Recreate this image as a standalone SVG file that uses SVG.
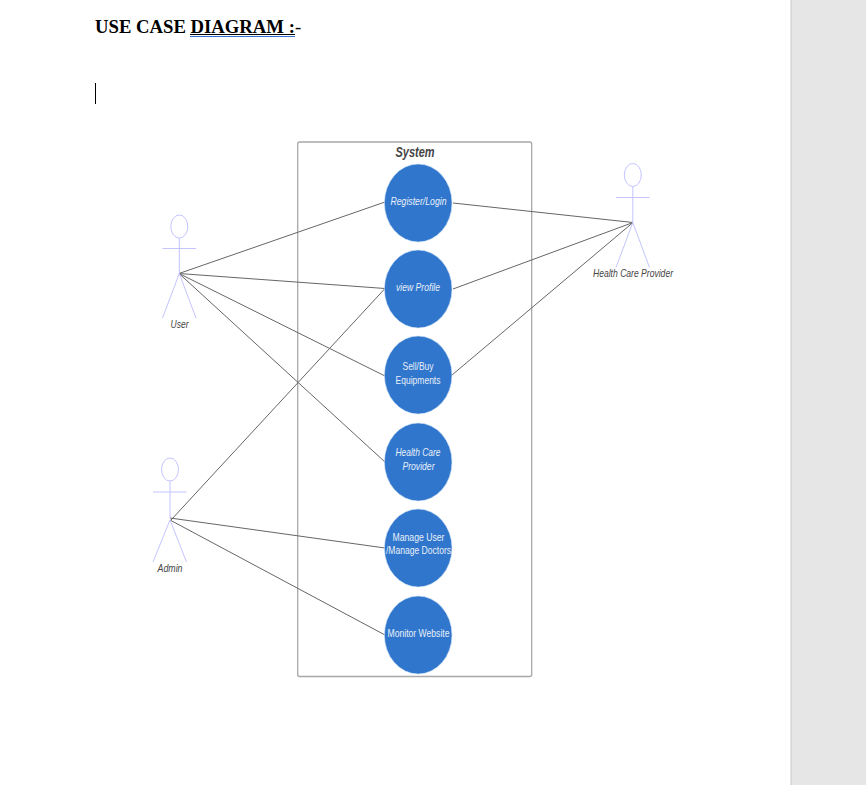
<svg xmlns="http://www.w3.org/2000/svg" width="866" height="785" viewBox="0 0 866 785">
<style>
.uc{fill:#3076cc;stroke:#cfe0f5;stroke-width:.6}
.a{fill:none;stroke:#c4c4ff;stroke-width:1}
.c{stroke:#666;stroke-width:1;fill:none}
text{font-family:"Liberation Sans",Arial,sans-serif;text-anchor:middle}
.w{fill:#e8f0fa;font-size:11px}
.i{font-style:italic}
.l{fill:#444;font-size:11px;font-style:italic}
.t{font-family:"Liberation Serif","Times New Roman",serif;font-size:18.7px;font-weight:bold;fill:#000;text-anchor:start}
</style>
<rect width="866" height="785" fill="#fff"/>
<rect x="791" y="0" width="75" height="785" fill="#e6e6e6"/>
<line x1="791" y1="0" x2="791" y2="785" stroke="#c8c8c8"/>
<text x="95" y="33" class="t">USE CASE DIAGRAM :<tspan font-weight="normal">-</tspan></text>
<line x1="190" y1="34.500" x2="295" y2="34.500" stroke="#000" stroke-width="1"/>
<line x1="190" y1="36.500" x2="295" y2="36.500" stroke="#2f6fd0" stroke-width="1"/>
<line x1="95.500" y1="83" x2="95.500" y2="104" stroke="#000" stroke-width="1"/>
<g id="system">
<rect x="297.700" y="142" width="234" height="534.500" rx="2" fill="#fff" stroke="#a8a8a8" stroke-width="1.300"/>
<text x="415" y="156.500" font-size="14" font-weight="bold" font-style="italic" fill="#444" textLength="39" lengthAdjust="spacingAndGlyphs">System</text>
</g>
<g id="connectors">
<line class="c" x1="179" y1="273.500" x2="385" y2="202"/>
<line class="c" x1="179" y1="273.500" x2="385" y2="288.500"/>
<line class="c" x1="179" y1="273.500" x2="385" y2="376"/>
<line class="c" x1="179" y1="273.500" x2="385" y2="462"/>
<line class="c" x1="171" y1="520" x2="385" y2="288.500"/>
<line class="c" x1="170" y1="518" x2="385" y2="548"/>
<line class="c" x1="170" y1="520" x2="385" y2="635"/>
<line class="c" x1="453" y1="203" x2="633" y2="222.500"/>
<line class="c" x1="453" y1="289" x2="633" y2="222.500"/>
<line class="c" x1="452" y1="375" x2="633" y2="222.500"/>
</g>
<g id="uc-register"><ellipse class="uc" cx="418.200" cy="203" rx="33.800" ry="39"/><text class="w i" x="418.500" y="205" textLength="56" lengthAdjust="spacingAndGlyphs">Register/Login</text></g>
<g id="uc-profile"><ellipse class="uc" cx="418.200" cy="289" rx="33.800" ry="39"/><text class="w i" x="418" y="290.500" textLength="44" lengthAdjust="spacingAndGlyphs">view Profile</text></g>
<g id="uc-sell"><ellipse class="uc" cx="418.200" cy="375" rx="33.800" ry="39"/><text class="w" x="418" y="370" textLength="31" lengthAdjust="spacingAndGlyphs">Sell/Buy</text><text class="w" x="418" y="383.500" textLength="45" lengthAdjust="spacingAndGlyphs">Equipments</text></g>
<g id="uc-hcp"><ellipse class="uc" cx="418.200" cy="462" rx="33.800" ry="39"/><text class="w i" x="418" y="456" textLength="45" lengthAdjust="spacingAndGlyphs">Health Care</text><text class="w i" x="418.500" y="470" textLength="32" lengthAdjust="spacingAndGlyphs">Provider</text></g>
<g id="uc-manage"><ellipse class="uc" cx="418.200" cy="548" rx="33.800" ry="39"/><text class="w" x="418.500" y="540.500" textLength="52" lengthAdjust="spacingAndGlyphs">Manage User</text><text class="w" x="418.500" y="554" textLength="65" lengthAdjust="spacingAndGlyphs">/Manage Doctors</text></g>
<g id="uc-monitor"><ellipse class="uc" cx="418.200" cy="635" rx="33.800" ry="39"/><text class="w" x="418.500" y="636.500" textLength="62" lengthAdjust="spacingAndGlyphs">Monitor Website</text></g>
<g id="actor-user">
<ellipse class="a" cx="179.300" cy="226.500" rx="8.500" ry="11.500"/>
<path class="a" d="M179.300 238V273.500M162.500 248.500H196M179.300 273.500L162.500 318M179.300 273.500L196 318"/>
<text class="l" x="179.500" y="328" textLength="18" lengthAdjust="spacingAndGlyphs">User</text>
</g>
<g id="actor-admin">
<ellipse class="a" cx="170" cy="469.500" rx="8.500" ry="11.500"/>
<path class="a" d="M170 481V518M153 492H186.500M170 520L153 562M170 520L186.500 562"/>
<text class="l" x="170" y="571.500" textLength="25" lengthAdjust="spacingAndGlyphs">Admin</text>
</g>
<g id="actor-hcp">
<ellipse class="a" cx="632.800" cy="175" rx="8.500" ry="11.500"/>
<path class="a" d="M632.800 186.500V222.500M616 197.500H649.500M632.800 222.500L616 267.500M632.800 222.500L649.500 267.500"/>
<text class="l" x="633" y="277" textLength="80" lengthAdjust="spacingAndGlyphs">Health Care Provider</text>
</g>
</svg>
